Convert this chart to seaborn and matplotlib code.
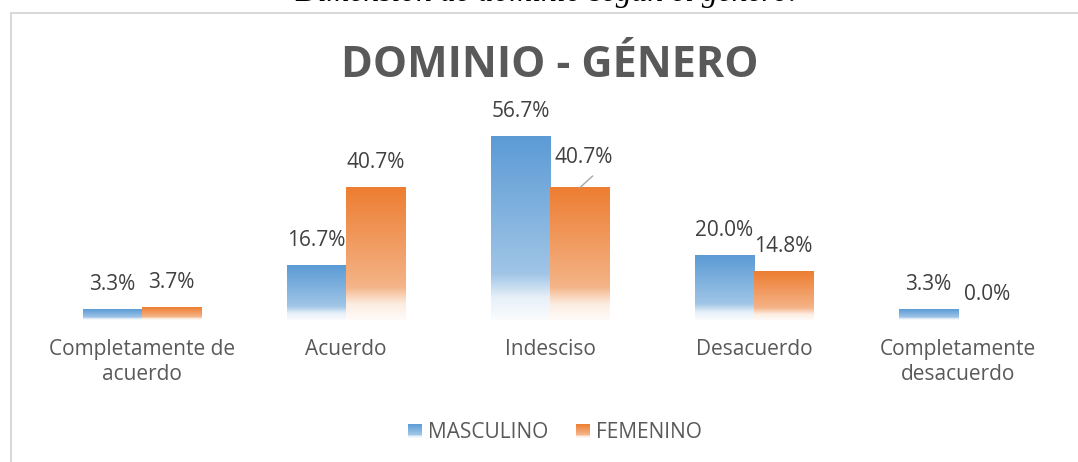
import numpy as np
import pandas as pd
import matplotlib
matplotlib.use("Agg")
import matplotlib.pyplot as plt
import matplotlib.colors as mcolors
from matplotlib.patches import Rectangle, Patch
from matplotlib.legend_handler import HandlerBase
import seaborn as sns

# --- data ---
categories = ["Completamente de\nacuerdo", "Acuerdo", "Indesciso",
              "Desacuerdo", "Completamente\ndesacuerdo"]
masculino = [3.3, 16.7, 56.7, 20.0, 3.3]
femenino = [3.7, 40.7, 40.7, 14.8, 0.0]
series_names = ["MASCULINO", "FEMENINO"]
series_colors = ["#5B9BD5", "#ED7D31"]

W, H = 1078, 462

sns.set_style("white")
plt.rcParams["font.family"] = ["Open Sans", "DejaVu Sans"]


def fade(color, t):
    """Excel-like gradient: full colour at top, almost white at the bottom."""
    f = np.interp(t, [0.0, 0.75, 0.88, 1.0], [0.0, 0.42, 0.85, 0.97])
    rgb = np.array(mcolors.to_rgb(color))
    return rgb * (1 - f) + f


def gradient_array(color, n=200):
    t = np.linspace(0, 1, n)
    return np.array([fade(color, v) for v in t]).reshape(n, 1, 3)


class GradHandler(HandlerBase):
    def __init__(self, color):
        super().__init__()
        self.color = color

    def create_artists(self, legend, orig_handle, xdescent, ydescent,
                       width, height, fontsize, trans):
        n = 14
        arts = []
        for i in range(n):
            c = fade(self.color, (i + 0.5) / n)
            y0 = -ydescent + height * (1 - (i + 1) / n)
            arts.append(Rectangle((-xdescent, y0), width, height / n + 0.01,
                                  facecolor=c, edgecolor="none", transform=trans))
        return arts


df = pd.DataFrame({
    "categoria": categories * 2,
    "valor": masculino + femenino,
    "genero": [series_names[0]] * 5 + [series_names[1]] * 5,
})

fig = plt.figure(figsize=(W / 100, H / 100), dpi=100)
ax = fig.add_axes([40 / W, (H - 320) / H, 1020 / W, 60 * 3.245 / H])

sns.barplot(data=df, x="categoria", y="valor", hue="genero",
            palette=series_colors, width=0.58, gap=0, legend=False, ax=ax)

# swap flat fills for gradients
for cont, col in zip(ax.containers, series_colors):
    for bar in cont:
        x0, w, h = bar.get_x(), bar.get_width(), bar.get_height()
        bar.set_facecolor("none")
        bar.set_edgecolor("none")
        if h <= 0:
            continue
        ax.imshow(gradient_array(col), extent=[x0, x0 + w, 0, h],
                  aspect="auto", origin="upper", zorder=2, interpolation="bilinear")

ax.set_xlim(-0.5, 4.5)
ax.set_ylim(0, 60)

# data labels
for ci, cont in enumerate(ax.containers):
    for bi, bar in enumerate(cont):
        xc = bar.get_x() + bar.get_width() / 2
        h = bar.get_height()
        txt = f"{h:.1f}%"
        if ci == 1 and bi == 2:
            ax.annotate(txt, (xc, h), xytext=(3, 22), textcoords="offset points",
                        ha="center", va="center", fontsize=15, color="#404040")
            ax.annotate("", xy=(xc, h), xytext=(9.4, 8.6), textcoords="offset points",
                        arrowprops=dict(arrowstyle="-", color="#a6a6a6", lw=1,
                                        shrinkA=0, shrinkB=0))
        else:
            ax.annotate(txt, (xc, h), xytext=(0, 18), textcoords="offset points",
                        ha="center", va="center", fontsize=15, color="#404040")

sns.despine(ax=ax, left=True, bottom=True)
ax.set_yticks([])
ax.set_xlabel("")
ax.set_ylabel("")
ax.tick_params(axis="x", length=0, pad=14, labelsize=15, labelcolor="#595959")
for lab in ax.get_xticklabels():
    lab.set_linespacing(1.25)
    lab.set_multialignment("center")

# title and cut-off caption above the chart frame
fig.text(550 / W, 1 - 65 / H, "DOMINIO - GÉNERO", ha="center", va="center",
         fontsize=31, fontweight="bold", color="#595959")
fig.text(546 / W, 1 - 1 / H, "Dimensión de dominio según el género.",
         ha="center", va="baseline", fontsize=22.8, style="italic",
         family=["Liberation Serif", "DejaVu Serif"], color="black")

# chart area border (left and top visible)
fig.add_artist(Rectangle((11 / W, -0.2), 1.5, 1.2 - 13 / H, transform=fig.transFigure,
                         fill=False, edgecolor="#d9d9d9", lw=1.5))

handles = [Patch(label=n) for n in series_names]
fig.legend(handles=handles, labels=series_names,
           handler_map={h: GradHandler(c) for h, c in zip(handles, series_colors)},
           loc="center", bbox_to_anchor=(555 / W, 1 - 433 / H), ncol=2,
           frameon=False, fontsize=15, labelcolor="#595959",
           handlelength=0.67, handleheight=0.67, handletextpad=0.3,
           columnspacing=1.3)

fig.savefig("out.png", dpi=100)
